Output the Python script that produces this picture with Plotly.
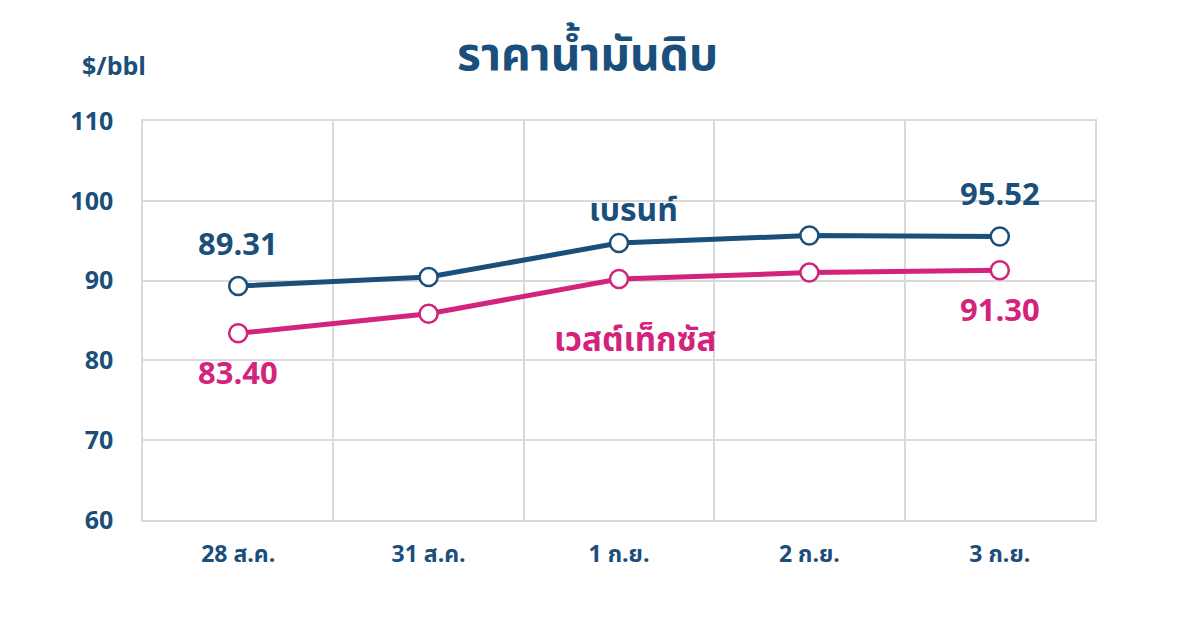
import plotly.graph_objects as go

categories = ["28 ส.ค.", "31 ส.ค.", "1 ก.ย.", "2 ก.ย.", "3 ก.ย."]
brent = [89.31, 90.45, 94.70, 95.65, 95.52]
wti = [83.40, 85.85, 90.20, 91.00, 91.30]
y_ticks = [60, 70, 80, 90, 100, 110]
brent_name = "เบรนท์"
wti_name = "เวสต์เท็กซัส"
title_text = "ราคาน้ำมันดิบ"
unit_text = "$/bbl"

BLUE = "#1B4F7B"
PINK = "#D3237C"
FONT = "Noto Sans Thai, Noto Sans, sans-serif"

fig = go.Figure()
for vals, col in ((brent, BLUE), (wti, PINK)):
    fig.add_trace(go.Scatter(
        x=categories, y=vals, mode="lines+markers",
        line=dict(color=col, width=5),
        marker=dict(size=18, color="white", line=dict(color=col, width=2.5)),
        cliponaxis=False, showlegend=False, hoverinfo="x+y",
    ))

# end-point value labels
for vals, col, shift in ((brent, BLUE, 41), (wti, PINK, -41)):
    for i in (0, len(vals) - 1):
        fig.add_annotation(x=categories[i], y=vals[i], text=f"<b>{vals[i]:.2f}</b>",
                           showarrow=False, yshift=shift,
                           font=dict(family=FONT, size=31, color=col))

fig.add_annotation(x=categories[2], y=brent[2], text=f"<b>{brent_name}</b>",
                   showarrow=False, xshift=14, yshift=32,
                   font=dict(family=FONT, size=32, color=BLUE))
fig.add_annotation(x=categories[2], y=wti[2], text=f"<b>{wti_name}</b>",
                   showarrow=False, xshift=16, yshift=-62,
                   font=dict(family=FONT, size=33, color=PINK))
fig.add_annotation(xref="paper", yref="paper", x=-0.066, y=1.135,
                   xanchor="left", yanchor="middle",
                   text=f"<b>{unit_text}</b>", showarrow=False,
                   font=dict(family=FONT, size=25, color=BLUE))

fig.update_layout(
    width=1200, height=630,
    paper_bgcolor="white", plot_bgcolor="white",
    margin=dict(l=135, r=113, t=113, b=118),
    title=dict(text=f"<b>{title_text}</b>", x=0.483, xanchor="center",
               y=0.927, yanchor="middle",
               font=dict(family=FONT, size=46, color=BLUE)),
    font=dict(family=FONT, color=BLUE),
)
fig.update_xaxes(
    type="category", tickson="boundaries", range=[-0.5, 4.5],
    showgrid=True, gridcolor="#D9D9D9", gridwidth=1.5,
    showline=True, linecolor="#D9D9D9", linewidth=1.5, mirror=True,
    ticks="", ticklabelstandoff=13,
    tickfont=dict(family=FONT, size=23, color=BLUE, weight="bold"),
)
fig.update_yaxes(
    range=[60, 110], tickvals=y_ticks,
    showgrid=True, gridcolor="#D9D9D9", gridwidth=1.5,
    showline=True, linecolor="#D9D9D9", linewidth=1.5, mirror=True,
    zeroline=False, ticks="", ticklabelstandoff=23,
    tickfont=dict(family=FONT, size=25, color=BLUE, weight="bold"),
)

fig.write_html("out.html")
